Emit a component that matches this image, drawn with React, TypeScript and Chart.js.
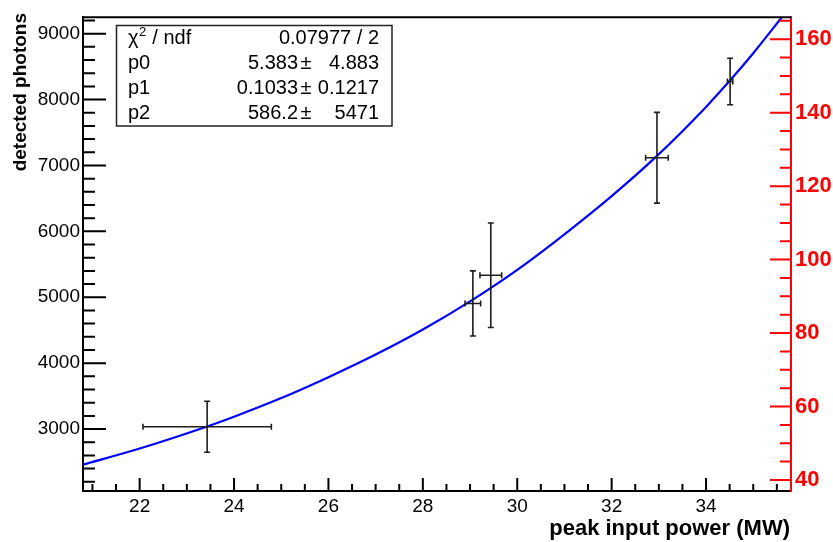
import React, { useEffect, useRef } from "react";
import { Chart, registerables } from "chart.js";

Chart.register(...registerables);

// ---- data ----
const pointX = [23.43, 29.06, 29.44, 32.96, 34.51];
const pointY = [3035, 4906, 5335, 7117, 8274];
const pointXErr = [1.36, 0.165, 0.23, 0.24, 0.057];
const pointYErr = [386, 494, 793, 688, 353];

const fitX = [20.8, 22.0, 23.43, 24.0, 25.0, 26.0, 27.0, 28.0, 29.06, 30.0, 31.0, 32.0, 32.96, 34.0, 34.51, 35.0, 35.61];
const fitY = [2460, 2705, 3040, 3188, 3471, 3788, 4131, 4511, 4965, 5416, 5956, 6535, 7145, 7889, 8292, 8704, 9253];

const xTickVals = [22, 24, 26, 28, 30, 32, 34];
const yTickVals = [3000, 4000, 5000, 6000, 7000, 8000, 9000];
const y2TickVals = [40, 60, 80, 100, 120, 140, 160];

const statsLabels = ["χ² / ndf", "p0", "p1", "p2"];
const statsValues = ["0.07977 / 2", "5.383", "0.1033", "586.2"];
const statsErrors = ["", "4.883", "0.1217", "5471"];

const xTitle = "peak input power (MW)";
const yTitle = "detected photons";

const FONT = '"Liberation Sans", Arial, Helvetica, sans-serif';

const decorPlugin = {
  id: "rootDecor",
  afterDatasetsDraw(chart: any) {
    const ctx = chart.ctx;
    const { left, right, top, bottom } = chart.chartArea;
    const xs = chart.scales.x;
    const ys = chart.scales.y;
    const y2 = chart.scales.y2;

    ctx.save();
    // error bars
    ctx.strokeStyle = "#1e1e1e";
    ctx.lineWidth = 1.6;
    const cap = 3;
    for (let i = 0; i < pointX.length; i++) {
      const cx = xs.getPixelForValue(pointX[i]);
      const cy = ys.getPixelForValue(pointY[i]);
      const x0 = xs.getPixelForValue(pointX[i] - pointXErr[i]);
      const x1 = xs.getPixelForValue(pointX[i] + pointXErr[i]);
      const yA = ys.getPixelForValue(pointY[i] + pointYErr[i]);
      const yB = ys.getPixelForValue(pointY[i] - pointYErr[i]);
      ctx.beginPath();
      ctx.moveTo(x0, cy); ctx.lineTo(x1, cy);
      ctx.moveTo(x0, cy - cap); ctx.lineTo(x0, cy + cap);
      ctx.moveTo(x1, cy - cap); ctx.lineTo(x1, cy + cap);
      ctx.moveTo(cx, yA); ctx.lineTo(cx, yB);
      ctx.moveTo(cx - cap, yA); ctx.lineTo(cx + cap, yA);
      ctx.moveTo(cx - cap, yB); ctx.lineTo(cx + cap, yB);
      ctx.stroke();
    }
    ctx.restore();

    ctx.save();
    // inward ticks
    const drawTicks = (
      scale: any, step: number, major: number, lenMaj: number, lenMin: number,
      color: string, dir: string
    ) => {
      ctx.strokeStyle = color;
      ctx.lineWidth = 2;
      ctx.beginPath();
      const start = Math.ceil(scale.min / step) * step;
      for (let v = start; v <= scale.max + 1e-9; v += step) {
        const isMaj = Math.abs(v / major - Math.round(v / major)) < 1e-6;
        const len = isMaj ? lenMaj : lenMin;
        const p = scale.getPixelForValue(v);
        if (dir === "up") { ctx.moveTo(p, bottom); ctx.lineTo(p, bottom - len); }
        if (dir === "right") { ctx.moveTo(left, p); ctx.lineTo(left + len, p); }
        if (dir === "left") { ctx.moveTo(right, p); ctx.lineTo(right - len, p); }
      }
      ctx.stroke();
    };
    drawTicks(xs, 0.5, 2, 13, 7, "#000", "up");
    drawTicks(ys, 200, 1000, 23, 12, "#000", "right");
    drawTicks(y2, 5, 20, 21, 11, "#ff0000", "left");

    // top frame line
    ctx.strokeStyle = "#000";
    ctx.lineWidth = 2;
    ctx.beginPath();
    ctx.moveTo(left, top);
    ctx.lineTo(right, top);
    ctx.stroke();

    // axis titles
    ctx.fillStyle = "#000";
    ctx.font = `bold 22px ${FONT}`;
    ctx.textAlign = "right";
    ctx.textBaseline = "alphabetic";
    ctx.fillText(xTitle, 790, 535);

    ctx.save();
    ctx.translate(26, 13);
    ctx.rotate(-Math.PI / 2);
    ctx.font = `bold 19px ${FONT}`;
    ctx.textAlign = "right";
    ctx.fillText(yTitle, 0, 0);
    ctx.restore();

    // stats box
    const bx = 116.5, by = 25.5, bw = 275.5, bh = 100.5;
    ctx.fillStyle = "#fff";
    ctx.fillRect(bx, by, bw, bh);
    ctx.strokeStyle = "#222";
    ctx.lineWidth = 1.5;
    ctx.strokeRect(bx, by, bw, bh);

    ctx.fillStyle = "#000";
    ctx.textBaseline = "middle";
    const rowY = [38, 63, 88, 113];
    for (let i = 0; i < statsLabels.length; i++) {
      const yy = rowY[i];
      ctx.font = `20px ${FONT}`;
      ctx.textAlign = "left";
      if (i === 0) {
        ctx.fillText("χ", 128, yy);
        const w = ctx.measureText("χ").width;
        ctx.font = `13px ${FONT}`;
        ctx.fillText("2", 128 + w + 0.5, yy - 6);
        const w2 = ctx.measureText("2").width;
        ctx.font = `20px ${FONT}`;
        ctx.fillText(" / ndf", 128 + w + w2 + 1, yy);
        ctx.textAlign = "right";
        ctx.fillText(statsValues[0], 379, yy);
      } else {
        ctx.fillText(statsLabels[i], 128, yy);
        ctx.textAlign = "right";
        ctx.fillText(statsValues[i], 298, yy);
        ctx.textAlign = "center";
        ctx.fillText("±", 306, yy);
        ctx.textAlign = "right";
        ctx.fillText(statsErrors[i], 379, yy);
      }
    }
    ctx.restore();
  },
};

export default function App() {
  const ref = useRef<HTMLCanvasElement | null>(null);

  useEffect(() => {
    if (!ref.current) return;
    const chart = new Chart(ref.current, {
      type: "line",
      data: {
        datasets: [
          {
            label: "fit",
            data: fitX.map((x, i) => ({ x, y: fitY[i] })),
            borderColor: "#0000ff",
            borderWidth: 2.2,
            pointRadius: 0,
            cubicInterpolationMode: "monotone",
            fill: false,
            yAxisID: "y",
          },
          {
            label: "data",
            type: "scatter",
            data: pointX.map((x, i) => ({ x, y: pointY[i] })),
            pointRadius: 0,
            showLine: false,
            yAxisID: "y",
          },
        ],
      } as any,
      options: {
        animation: false,
        responsive: false,
        devicePixelRatio: 1,
        layout: { padding: { top: 11, left: 0, right: 0, bottom: 0 } },
        plugins: { legend: { display: false }, tooltip: { enabled: false } },
        scales: {
          x: {
            type: "linear",
            min: 20.8,
            max: 35.8,
            grid: { display: false, drawTicks: false },
            border: { display: true, color: "#000", width: 2 },
            afterBuildTicks: (s: any) => { s.ticks = xTickVals.map((v) => ({ value: v })); },
            afterFit: (s: any) => { s.height = 51; },
            ticks: {
              color: "#000",
              font: { family: FONT, size: 19 },
              padding: 4,
              maxRotation: 0,
              autoSkip: false,
              callback: (v: any) => String(v),
            },
          },
          y: {
            type: "linear",
            position: "left",
            min: 2060,
            max: 9250,
            grid: { display: false, drawTicks: false },
            border: { display: true, color: "#000", width: 2 },
            afterBuildTicks: (s: any) => { s.ticks = yTickVals.map((v) => ({ value: v })); },
            afterFit: (s: any) => { s.width = 83; },
            ticks: {
              color: "#000",
              font: { family: FONT, size: 19 },
              padding: 3,
              autoSkip: false,
              callback: (v: any) => String(v),
            },
          },
          y2: {
            type: "linear",
            position: "right",
            display: true,
            min: 37,
            max: 166,
            grid: { display: false, drawTicks: false },
            border: { display: true, color: "#ff0000", width: 2 },
            afterBuildTicks: (s: any) => { s.ticks = y2TickVals.map((v) => ({ value: v })); },
            afterFit: (s: any) => { s.width = 42; },
            ticks: {
              color: "#ff0000",
              font: { family: FONT, size: 22, weight: "bold" },
              padding: 4,
              autoSkip: false,
              callback: (v: any) => String(v),
            },
          },
        },
      } as any,
      plugins: [decorPlugin],
    });
    return () => chart.destroy();
  }, []);

  return (
    <canvas
      ref={ref}
      width={833}
      height={542}
      style={{ position: "absolute", left: 0, top: 0, width: 833, height: 542 }}
    />
  );
}
